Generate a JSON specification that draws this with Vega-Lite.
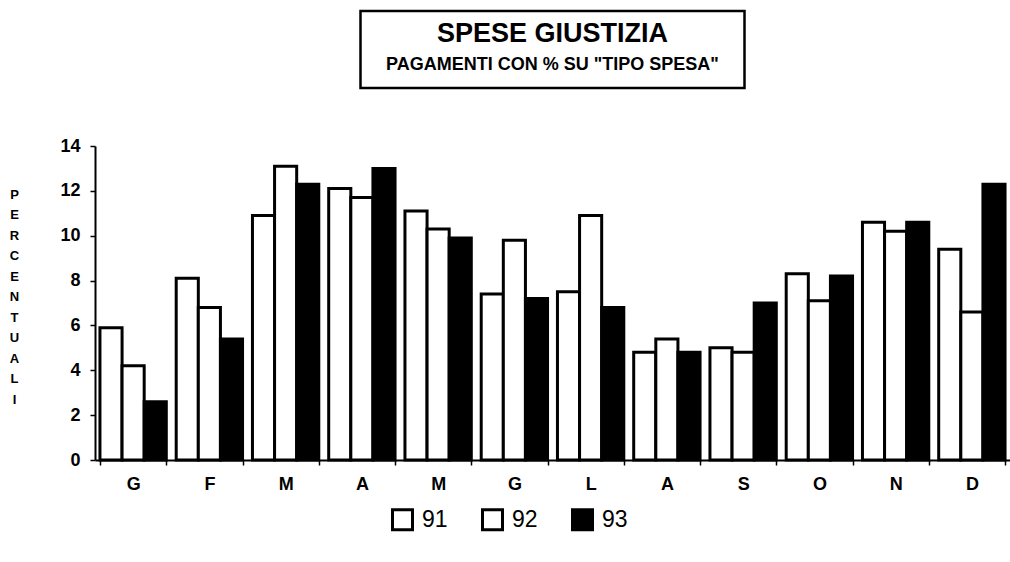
{
  "$schema": "https://vega.github.io/schema/vega-lite/v6.json",
  "background": "white",
  "padding": {"left": 9, "top": 9, "right": 0, "bottom": 5},
  "config": {
    "font": "Liberation Sans",
    "view": {"stroke": null},
    "text": {"color": "black"},
    "legend": {"layout": {"bottom": {"anchor": "middle"}}}
  },
  "bounds": "flush",
  "center": true,
  "spacing": 58,
  "vconcat": [
    {
      "width": 384,
      "height": 77,
      "view": {"stroke": "black", "strokeWidth": 2.5, "fill": "white"},
      "layer": [
        {
          "data": {"values": [{"riga": "SPESE GIUSTIZIA"}]},
          "mark": {"type": "text", "fontSize": 27, "fontWeight": "bold", "baseline": "middle"},
          "encoding": {
            "y": {"field": "riga", "type": "nominal", "axis": null,
                  "scale": {"type": "point", "domain": ["SPESE GIUSTIZIA", "PAGAMENTI CON % SU \"TIPO SPESA\""], "padding": 0.75}},
            "text": {"field": "riga"}
          }
        },
        {
          "data": {"values": [{"riga": "PAGAMENTI CON % SU \"TIPO SPESA\""}]},
          "mark": {"type": "text", "fontSize": 18, "fontWeight": "bold", "baseline": "middle"},
          "encoding": {
            "y": {"field": "riga", "type": "nominal", "axis": null},
            "text": {"field": "riga"}
          }
        }
      ]
    },
    {
      "width": 915,
      "height": 314,
      "data": {"values": [
        {"mese": "Gennaio", "anno": "91", "valore": 5.9},
        {"mese": "Gennaio", "anno": "92", "valore": 4.2},
        {"mese": "Gennaio", "anno": "93", "valore": 2.6},
        {"mese": "Febbraio", "anno": "91", "valore": 8.1},
        {"mese": "Febbraio", "anno": "92", "valore": 6.8},
        {"mese": "Febbraio", "anno": "93", "valore": 5.4},
        {"mese": "Marzo", "anno": "91", "valore": 10.9},
        {"mese": "Marzo", "anno": "92", "valore": 13.1},
        {"mese": "Marzo", "anno": "93", "valore": 12.3},
        {"mese": "Aprile", "anno": "91", "valore": 12.1},
        {"mese": "Aprile", "anno": "92", "valore": 11.7},
        {"mese": "Aprile", "anno": "93", "valore": 13.0},
        {"mese": "Maggio", "anno": "91", "valore": 11.1},
        {"mese": "Maggio", "anno": "92", "valore": 10.3},
        {"mese": "Maggio", "anno": "93", "valore": 9.9},
        {"mese": "Giugno", "anno": "91", "valore": 7.4},
        {"mese": "Giugno", "anno": "92", "valore": 9.8},
        {"mese": "Giugno", "anno": "93", "valore": 7.2},
        {"mese": "Luglio", "anno": "91", "valore": 7.5},
        {"mese": "Luglio", "anno": "92", "valore": 10.9},
        {"mese": "Luglio", "anno": "93", "valore": 6.8},
        {"mese": "Agosto", "anno": "91", "valore": 4.8},
        {"mese": "Agosto", "anno": "92", "valore": 5.4},
        {"mese": "Agosto", "anno": "93", "valore": 4.8},
        {"mese": "Settembre", "anno": "91", "valore": 5.0},
        {"mese": "Settembre", "anno": "92", "valore": 4.8},
        {"mese": "Settembre", "anno": "93", "valore": 7.0},
        {"mese": "Ottobre", "anno": "91", "valore": 8.3},
        {"mese": "Ottobre", "anno": "92", "valore": 7.1},
        {"mese": "Ottobre", "anno": "93", "valore": 8.2},
        {"mese": "Novembre", "anno": "91", "valore": 10.6},
        {"mese": "Novembre", "anno": "92", "valore": 10.2},
        {"mese": "Novembre", "anno": "93", "valore": 10.6},
        {"mese": "Dicembre", "anno": "91", "valore": 9.4},
        {"mese": "Dicembre", "anno": "92", "valore": 6.6},
        {"mese": "Dicembre", "anno": "93", "valore": 12.3}
      ]},
      "mark": {"type": "bar", "stroke": "black", "strokeWidth": 3},
      "encoding": {
        "x": {
          "field": "mese", "type": "nominal", "sort": null,
          "scale": {"paddingInner": 0.13, "paddingOuter": 0.065},
          "axis": {
            "title": null, "labelAngle": 0,
            "labelExpr": "upper(slice(datum.label, 0, 1))",
            "labelFontSize": 18, "labelFontWeight": "bold", "labelColor": "black",
            "labelPadding": 10,
            "tickBand": "extent", "tickSize": 5, "tickColor": "black", "tickWidth": 1.5,
            "domainColor": "black", "domainWidth": 2
          }
        },
        "xOffset": {"field": "anno", "type": "nominal"},
        "y": {
          "field": "valore", "type": "quantitative",
          "scale": {"domain": [0, 14]},
          "axis": {
            "values": [0, 2, 4, 6, 8, 10, 12, 14],
            "grid": false,
            "labelFontSize": 18, "labelFontWeight": "bold", "labelColor": "black",
            "labelPadding": 10,
            "tickSize": 5, "tickColor": "black", "tickWidth": 1.5,
            "domainColor": "black", "domainWidth": 2,
            "title": ["P", "E", "R", "C", "E", "N", "T", "U", "A", "L", "I"],
            "titleAngle": 0, "titleFontSize": 13, "titleFontWeight": "bold",
            "titleColor": "black", "titleLineHeight": 20.5,
            "titleAlign": "center", "titleBaseline": "middle",
            "titleX": -81, "titleY": 48
          }
        },
        "fill": {
          "field": "anno", "type": "nominal",
          "scale": {"domain": ["91", "92", "93"], "range": ["white", "white", "black"]},
          "legend": {
            "title": null, "orient": "bottom", "direction": "horizontal",
            "symbolType": "square", "symbolSize": 400,
            "symbolStrokeColor": "black", "symbolStrokeWidth": 3,
            "labelFontSize": 23, "labelColor": "black", "labelOffset": 8,
            "columnPadding": 28, "offset": 15
          }
        }
      }
    }
  ]
}
